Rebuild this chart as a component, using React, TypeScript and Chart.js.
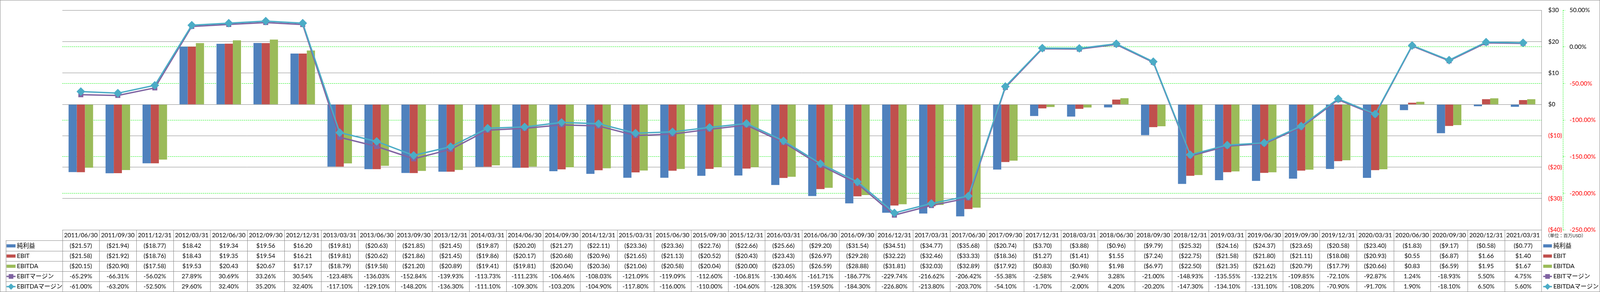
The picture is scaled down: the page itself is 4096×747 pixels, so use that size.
import React, { useEffect, useRef } from "react";
import { Chart, registerables } from "chart.js";

Chart.register(...registerables);

// ---------------- data ----------------
const categories = [
  "2011/06/30", "2011/09/30", "2011/12/31", "2012/03/31", "2012/06/30", "2012/09/30", "2012/12/31",
  "2013/03/31", "2013/06/30", "2013/09/30", "2013/12/31", "2014/03/31", "2014/06/30", "2014/09/30",
  "2014/12/31", "2015/03/31", "2015/06/30", "2015/09/30", "2015/12/31", "2016/03/31", "2016/06/30",
  "2016/09/30", "2016/12/31", "2017/03/31", "2017/06/30", "2017/09/30", "2017/12/31", "2018/03/31",
  "2018/06/30", "2018/09/30", "2018/12/31", "2019/03/31", "2019/06/30", "2019/09/30", "2019/12/31",
  "2020/03/31", "2020/06/30", "2020/09/30", "2020/12/31", "2021/03/31",
];

const netIncome = [
  -21.57, -21.94, -18.77, 18.42, 19.34, 19.56, 16.2, -19.81, -20.63, -21.85, -21.45, -19.87, -20.2, -21.27,
  -22.11, -23.36, -23.36, -22.76, -22.66, -25.66, -29.2, -31.54, -34.51, -34.77, -35.68, -20.74, -3.7, -3.88,
  -0.96, -9.79, -25.32, -24.16, -24.37, -23.65, -20.58, -23.4, -1.83, -9.17, -0.58, -0.77,
];

const ebit = [
  -21.58, -21.92, -18.76, 18.43, 19.35, 19.54, 16.21, -19.81, -20.62, -21.86, -21.45, -19.86, -20.17, -20.68,
  -20.96, -21.65, -21.13, -20.52, -20.43, -23.43, -26.97, -29.28, -32.22, -32.46, -33.33, -18.36, -1.27, -1.41,
  1.55, -7.24, -22.75, -21.58, -21.8, -21.11, -18.08, -20.93, 0.55, -6.87, 1.66, 1.4,
];

const ebitda = [
  -20.15, -20.9, -17.58, 19.53, 20.43, 20.67, 17.17, -18.79, -19.58, -21.2, -20.89, -19.41, -19.81, -20.04,
  -20.36, -21.06, -20.58, -20.04, -20.0, -23.05, -26.59, -28.88, -31.81, -32.03, -32.89, -17.92, -0.83, -0.98,
  1.98, -6.97, -22.5, -21.35, -21.62, -20.79, -17.79, -20.66, 0.83, -6.59, 1.95, 1.67,
];

const ebitMargin = [
  -65.29, -66.31, -56.02, 27.89, 30.69, 33.26, 30.54, -123.48, -136.03, -152.84, -139.93, -113.73, -111.23,
  -106.46, -108.03, -121.09, -119.09, -112.6, -106.81, -130.46, -161.71, -186.77, -229.74, -216.62, -206.42,
  -55.38, -2.58, -2.94, 3.28, -21.0, -148.93, -135.55, -132.21, -109.85, -72.1, -92.87, 1.24, -18.93, 5.5, 4.75,
];

const ebitdaMargin = [
  -61.0, -63.2, -52.5, 29.6, 32.4, 35.2, 32.4, -117.1, -129.1, -148.2, -136.3, -111.1, -109.3, -103.2, -104.9,
  -117.8, -116.0, -110.0, -104.6, -128.3, -159.5, -184.3, -226.8, -213.8, -203.7, -54.1, -1.7, -2.0, 4.2, -20.2,
  -147.3, -134.1, -131.1, -108.2, -70.9, -91.7, 1.9, -18.1, 6.5, 5.6,
];

const seriesNames = ["純利益", "EBIT", "EBITDA", "EBITマージン", "EBITDAマージン"];
const unitLabel = "（単位：百万USD）";

const moneyAxis = { min: -40, max: 30, step: 10 };
const pctAxis = { min: -250, max: 50, step: 50 };

// ---------------- styles ----------------
const BLUE = "#4F81BD";
const RED = "#C0504D";
const GREEN = "#9BBB59";
const PURPLE = "#8064A2";
const CYAN = "#4BACC6";
const GRID_GREY = "#878787";
const LIME = "#00F000";
const NEG_RED = "#FF0000";
const FONT_FAMILY = 'Lato, "Noto Sans CJK JP", sans-serif';
const FONT_SIZE = 15.5;

const W = 4096;
const H = 747;
const K = 0.697;
const s = (v: number) => v * K;

const PLOT_LEFT = s(229);
const PLOT_TOP = s(15);
const TABLE_TOP = s(844);
const HEADER_H = s(39);
const ROW_H = s(37.4);
const ROW_HEAD_LEFT = s(21);
const Y_AXIS_W = s(79);
const Y1_AXIS_W = W - s(5741);

const fmtMoney = (v: number) => (v < 0 ? `($${(-v).toFixed(2)})` : `$${v.toFixed(2)}`);
const fmtPct = (v: number) => `${v.toFixed(2)}%`;
const fmtMoneyTick = (v: number) => (v < 0 ? `($${-v})` : `$${v}`);

const seriesColors = [BLUE, RED, GREEN, PURPLE, CYAN];
const tableRows = [
  { values: netIncome, fmt: fmtMoney },
  { values: ebit, fmt: fmtMoney },
  { values: ebitda, fmt: fmtMoney },
  { values: ebitMargin, fmt: fmtPct },
  { values: ebitdaMargin, fmt: fmtPct },
];

function drawKey(ctx: CanvasRenderingContext2D, idx: number, x0: number, x1: number, cy: number) {
  const color = seriesColors[idx];
  ctx.save();
  if (idx < 3) {
    ctx.fillStyle = color;
    ctx.fillRect(x0, cy - 4, x1 - x0, 8);
  } else {
    ctx.strokeStyle = color;
    ctx.fillStyle = color;
    ctx.lineWidth = 3.5;
    ctx.beginPath();
    ctx.moveTo(x0, cy);
    ctx.lineTo(x1, cy);
    ctx.stroke();
    const cx = (x0 + x1) / 2;
    ctx.beginPath();
    if (idx === 3) {
      ctx.rect(cx - 6, cy - 6, 12, 12);
    } else {
      ctx.moveTo(cx, cy - 8);
      ctx.lineTo(cx + 8, cy);
      ctx.lineTo(cx, cy + 8);
      ctx.lineTo(cx - 8, cy);
      ctx.closePath();
    }
    ctx.fill();
  }
  ctx.restore();
}

const tablePlugin = {
  id: "dataTable",
  afterDraw(chart: any) {
    const { ctx, chartArea: area, scales } = chart;
    const xs = scales.x;
    const y1 = scales.y1;
    const n = categories.length;
    const colW = (area.right - area.left) / n;
    const top = area.bottom;
    const bottom = top + HEADER_H + ROW_H * 5;
    const al = (v: number) => Math.round(v) + 0.5;

    ctx.save();

    // secondary axis dashed line
    ctx.strokeStyle = LIME;
    ctx.lineWidth = 1;
    ctx.setLineDash([3, 2]);
    ctx.beginPath();
    ctx.moveTo(al(y1.left), area.top);
    ctx.lineTo(al(y1.left), area.bottom);
    ctx.stroke();
    ctx.setLineDash([]);

    // table grid
    ctx.strokeStyle = GRID_GREY;
    ctx.lineWidth = 1;
    ctx.beginPath();
    ctx.moveTo(area.left, al(top));
    ctx.lineTo(area.right, al(top));
    for (let r = 0; r <= 5; r++) {
      const y = al(top + HEADER_H + r * ROW_H);
      ctx.moveTo(ROW_HEAD_LEFT, y);
      ctx.lineTo(area.right, y);
    }
    for (let i = 0; i <= n; i++) {
      const x = al(area.left + i * colW);
      ctx.moveTo(x, top);
      ctx.lineTo(x, bottom);
    }
    ctx.moveTo(al(ROW_HEAD_LEFT), top + HEADER_H);
    ctx.lineTo(al(ROW_HEAD_LEFT), bottom);
    ctx.stroke();

    // header text
    ctx.fillStyle = "#000";
    ctx.font = `${FONT_SIZE}px ${FONT_FAMILY}`;
    ctx.textAlign = "center";
    ctx.textBaseline = "middle";
    for (let i = 0; i < n; i++) {
      ctx.fillText(categories[i], xs.getPixelForValue(i), top + HEADER_H / 2 + 0.5);
    }
    // rows
    tableRows.forEach((row, r) => {
      const cy = top + HEADER_H + ROW_H * (r + 0.5) + 0.5;
      ctx.textAlign = "center";
      for (let i = 0; i < n; i++) {
        ctx.fillText(row.fmt(row.values[i]), xs.getPixelForValue(i), cy);
      }
      drawKey(ctx, r, s(24), s(57), cy);
      ctx.fillStyle = "#000";
      ctx.textAlign = "left";
      ctx.fillText(seriesNames[r], s(62), cy);
      // right legend
      drawKey(ctx, r, s(5668), s(5700), cy);
      ctx.fillStyle = "#000";
      ctx.fillText(seriesNames[r], s(5705), cy);
    });

    // unit label
    ctx.font = `11.5px ${FONT_FAMILY}`;
    ctx.fillStyle = "#222";
    ctx.textAlign = "left";
    ctx.fillText(unitLabel, s(5676), top + HEADER_H / 2 + 1);

    // outer border
    ctx.strokeStyle = GRID_GREY;
    ctx.strokeRect(0.5, 0.5, W - 1, H - 1);
    ctx.restore();
  },
};

export default function App() {
  const ref = useRef<HTMLCanvasElement>(null);

  useEffect(() => {
    const tickFont = { family: FONT_FAMILY, size: FONT_SIZE };
    const chart = new Chart(ref.current as HTMLCanvasElement, {
      type: "bar",
      data: {
        labels: categories,
        datasets: [
          { type: "bar", label: seriesNames[0], data: netIncome, backgroundColor: BLUE, yAxisID: "y", order: 3 },
          { type: "bar", label: seriesNames[1], data: ebit, backgroundColor: RED, yAxisID: "y", order: 3 },
          { type: "bar", label: seriesNames[2], data: ebitda, backgroundColor: GREEN, yAxisID: "y", order: 3 },
          {
            type: "line", label: seriesNames[3], data: ebitMargin, yAxisID: "y1", order: 2,
            borderColor: PURPLE, backgroundColor: PURPLE, borderWidth: 3.5, borderJoinStyle: "round",
            pointStyle: "rect", pointRadius: 8, pointBorderWidth: 1.5, pointBorderColor: PURPLE,
            pointBackgroundColor: PURPLE, tension: 0,
          },
          {
            type: "line", label: seriesNames[4], data: ebitdaMargin, yAxisID: "y1", order: 1,
            borderColor: CYAN, backgroundColor: CYAN, borderWidth: 3.5, borderJoinStyle: "round",
            pointStyle: "rectRot", pointRadius: 10, pointBorderWidth: 1.5, pointBorderColor: CYAN,
            pointBackgroundColor: CYAN, tension: 0,
          },
        ] as any,
      },
      options: {
        animation: false,
        responsive: false,
        devicePixelRatio: 1,
        events: [],
        layout: { padding: { left: PLOT_LEFT, top: PLOT_TOP, right: 0, bottom: H - TABLE_TOP } },
        datasets: { bar: { categoryPercentage: 0.663, barPercentage: 1, borderWidth: 0 } },
        plugins: { legend: { display: false }, tooltip: { enabled: false } },
        scales: {
          x: { display: false, offset: true, grid: { display: false } },
          y: {
            position: "right",
            weight: 0,
            min: moneyAxis.min,
            max: moneyAxis.max,
            ticks: {
              stepSize: moneyAxis.step,
              padding: 17,
              font: tickFont,
              color: (c: any) => (c.tick && c.tick.value < 0 ? NEG_RED : "#000"),
              callback: (v: any) => fmtMoneyTick(Number(v)),
            },
            grid: { color: GRID_GREY, lineWidth: 1, drawTicks: false },
            border: { display: true, color: GRID_GREY, width: 1 },
            afterFit: (sc: any) => { sc.width = Y_AXIS_W; },
          },
          y1: {
            position: "right",
            weight: 1,
            min: pctAxis.min,
            max: pctAxis.max,
            ticks: {
              stepSize: pctAxis.step,
              padding: 11,
              font: tickFont,
              color: (c: any) => (c.tick && c.tick.value < 0 ? NEG_RED : "#000"),
              callback: (v: any) => fmtPct(Number(v)),
            },
            grid: {
              color: (c: any) => (c.tick && (c.tick.value === pctAxis.max || c.tick.value === pctAxis.min) ? "rgba(0,0,0,0)" : LIME),
              lineWidth: 1,
              drawTicks: true,
              tickLength: 5.6,
              tickColor: LIME,
              tickWidth: 1,
              tickBorderDash: [3, 2],
            },
            border: { display: false, dash: [3, 2] },
            afterFit: (sc: any) => { sc.width = Y1_AXIS_W; },
          },
        } as any,
      },
      plugins: [tablePlugin],
    } as any);
    return () => chart.destroy();
  }, []);

  return (
    <div style={{ position: "fixed", left: 0, top: 0, width: W, height: H, background: "#fff" }}>
      <canvas ref={ref} width={W} height={H} style={{ display: "block", width: W, height: H }} />
    </div>
  );
}
